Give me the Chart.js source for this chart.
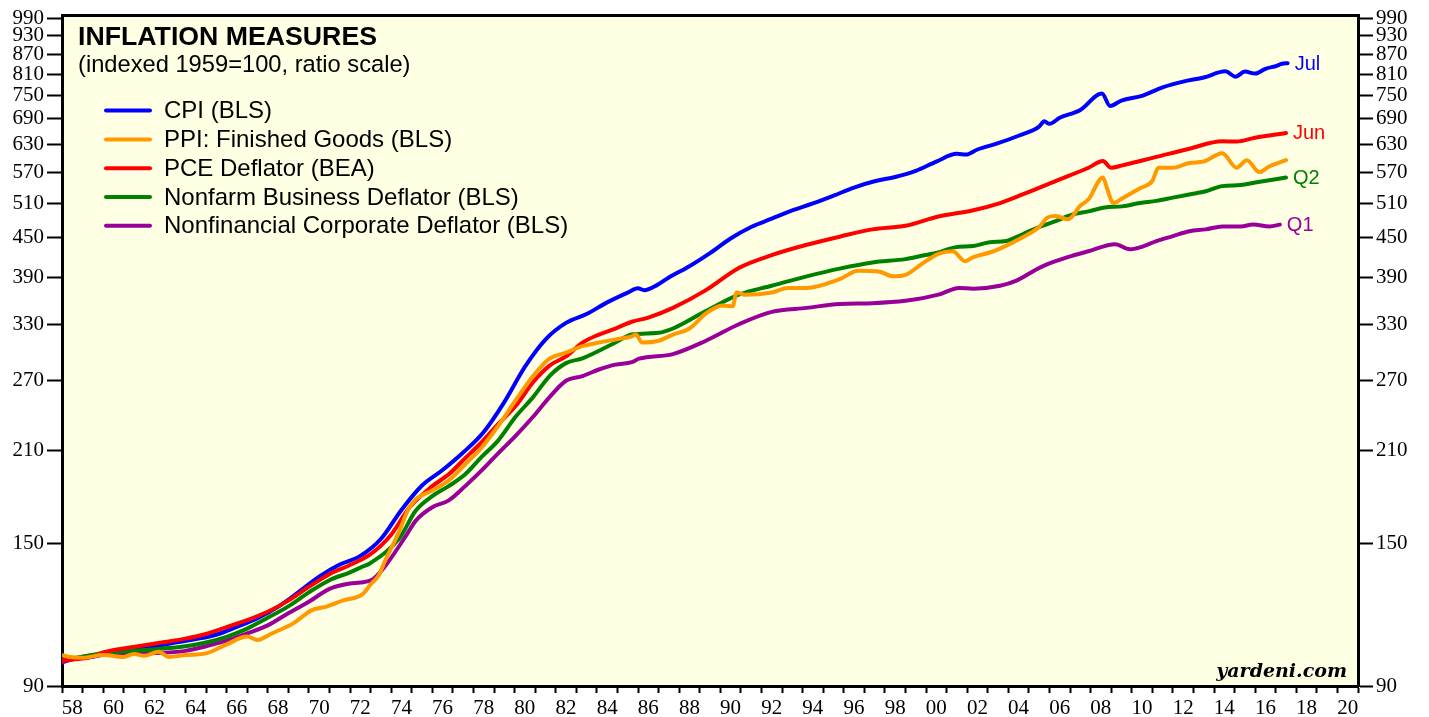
<!DOCTYPE html>
<html>
<head>
<meta charset="utf-8">
<title>Inflation Measures</title>
<script src="https://cdn.jsdelivr.net/npm/chart.js@4.4.0/dist/chart.umd.min.js"></script>
<style>
  html, body { margin: 0; padding: 0; background: #fff; }
  #wrap { width: 1429px; height: 717px; }
</style>
</head>
<body>
<div id="wrap"><canvas id="chart" width="1429" height="717"></canvas></div>
<script>
// Indexed 1959=100 (x = decimal year)
const cpiDates = [1958.0, 1958.5, 1959.5, 1960.5, 1961.5, 1962.5, 1963.5, 1964.5, 1965.5, 1966.5, 1967.5, 1968.5, 1969.5,
  1970.5, 1971.5, 1972.5, 1973.5, 1974.5, 1975.5, 1976.5, 1977.5, 1978.5, 1979.5, 1980.5, 1981.5, 1982.5, 1983.5, 1984.5,
  1985.5, 1986.0, 1986.3, 1986.9, 1987.5, 1988.5, 1989.5, 1990.5, 1991.5, 1992.5, 1993.5, 1994.5, 1995.5, 1996.5, 1997.5,
  1998.5, 1999.5, 2000.5, 2001.5, 2001.95, 2002.5, 2003.5, 2004.5, 2005.5, 2005.75, 2006.0, 2006.5, 2007.5, 2008.55,
  2008.95, 2009.5, 2010.5, 2011.5, 2012.5, 2013.5, 2014.55, 2015.05, 2015.5, 2016.0, 2016.5, 2017.05, 2017.3, 2017.58];
const cpiValues = [98.3, 99.3, 100.0, 101.7, 102.7, 103.8, 105.2, 106.5, 108.2, 111.3, 114.8, 119.6, 126.1,
  133.3, 139.2, 143.6, 152.6, 169.4, 184.9, 195.5, 208.2, 224.1, 249.5, 283.2, 312.4, 331.6, 342.3, 357.0,
  369.8, 375.5, 373.0, 379.5, 390.4, 406.5, 426.1, 449.1, 468.0, 482.1, 496.6, 509.3, 523.7, 539.2, 551.5,
  560.1, 572.5, 591.8, 608.6, 607.0, 618.2, 632.3, 649.5, 671.1, 684.0, 678.0, 692.8, 712.4, 756.0,
  723.0, 737.1, 749.5, 772.9, 789.0, 800.7, 818.5, 803.0, 818.0, 812.0, 826.0, 835.0, 841.0, 843.0];

const ppiDates = [1958.0, 1958.3, 1959.0, 1960.0, 1961.0, 1961.5, 1962.0, 1962.7, 1963.2, 1964.0, 1965.0, 1966.0, 1967.0,
  1967.5, 1968.2, 1969.3, 1970.1, 1970.9, 1971.7, 1972.6, 1973.0, 1973.4, 1973.7, 1974.4, 1974.8, 1975.2, 1976.0, 1976.8,
  1977.6, 1978.4, 1979.2, 1980.05, 1980.9, 1981.7, 1982.5, 1983.3, 1984.1, 1984.9, 1985.7, 1985.9, 1986.2, 1987.0, 1987.7,
  1988.5, 1989.3, 1990.1, 1990.6, 1990.8, 1991.2, 1992.5, 1993.3, 1994.2, 1995.8, 1996.7, 1997.7, 1998.4, 1999.0, 1999.8,
  2000.6, 2001.3, 2001.9, 2002.3, 2003.1, 2003.6, 2004.7, 2005.5, 2005.9, 2006.3, 2006.9, 2007.5, 2007.9, 2008.6, 2008.8,
  2009.1, 2009.55, 2010.4, 2011.0, 2011.3, 2012.0, 2012.8, 2013.5, 2014.4, 2015.1, 2015.6, 2016.2, 2016.7, 2017.5];
const ppiValues = [100.5, 100.0, 99.6, 100.6, 99.9, 101.0, 100.3, 101.8, 99.9, 100.6, 101.2, 104.5, 107.5,
  106.2, 108.7, 113.0, 118.0, 119.8, 122.5, 125.1, 129.6, 134.0, 141.0, 157.0, 169.0, 176.0, 181.7, 188.3,
  199.6, 212.0, 229.0, 251.0, 274.0, 291.6, 298.0, 305.0, 309.0, 312.5, 316.0, 318.0, 309.0, 311.0, 318.0,
  325.0, 343.0, 353.0, 352.0, 370.0, 367.0, 370.0, 376.0, 376.0, 388.0, 400.0, 399.0, 392.0, 394.0, 410.0,
  425.0, 429.0, 414.0, 420.0, 427.0, 433.0, 451.0, 468.0, 484.0, 487.0, 481.0, 505.0, 517.0, 559.0, 538.0,
  510.0, 519.0, 538.0, 552.0, 579.0, 579.0, 589.0, 592.0, 610.0, 579.0, 595.0, 570.0, 582.0, 595.0];

const pceDates = [1958.0, 1959.5, 1960.0, 1961.0, 1962.0, 1963.0, 1964.0, 1965.0, 1966.0, 1967.0, 1968.0, 1969.0, 1970.0,
  1971.0, 1972.0, 1973.0, 1974.0, 1974.9, 1976.0, 1976.8, 1977.6, 1978.4, 1979.2, 1980.05, 1980.9, 1981.7, 1982.5, 1983.3,
  1984.1, 1984.9, 1985.7, 1986.5, 1987.7, 1989.3, 1990.9, 1992.5, 1994.2, 1995.8, 1997.4, 1999.0, 2000.6, 2002.3, 2003.6,
  2004.7, 2006.3, 2007.9, 2008.6, 2009.0, 2009.55, 2011.2, 2012.8, 2014.4, 2015.1, 2016.0, 2017.5];
const pceValues = [98.6, 100.0, 101.5, 103.0, 104.2, 105.4, 106.7, 108.5, 111.2, 114.0, 117.5, 122.3, 128.5,
  134.5, 139.0, 144.5, 155.0, 171.0, 184.5, 192.5, 204.0, 216.0, 230.5, 246.0, 268.0, 284.5, 294.0, 309.0,
  318.0, 325.0, 333.0, 338.0, 350.0, 373.0, 404.0, 423.0, 439.0, 452.0, 464.0, 470.0, 486.0, 497.0, 510.0,
  526.0, 552.0, 579.0, 593.0, 579.0, 584.0, 602.0, 620.0, 637.0, 636.0, 645.0, 656.0];

const nfbDates = [1958.0, 1959.0, 1960.0, 1962.0, 1964.0, 1965.0, 1966.0, 1967.0, 1968.0, 1969.0, 1970.0, 1971.0, 1972.0,
  1972.5, 1973.0, 1974.4, 1975.2, 1976.0, 1976.8, 1977.6, 1978.4, 1979.2, 1980.05, 1980.9, 1981.7, 1982.5, 1983.3, 1984.1,
  1984.9, 1985.7, 1987.0, 1987.7, 1989.3, 1990.9, 1992.5, 1994.2, 1995.8, 1997.4, 1999.0, 1999.8, 2000.6, 2001.4, 2002.3,
  2003.1, 2003.9, 2004.7, 2005.5, 2006.3, 2007.1, 2007.9, 2008.7, 2009.55, 2010.4, 2011.2, 2012.0, 2012.8, 2013.6, 2014.4,
  2015.3, 2016.0, 2017.5];
const nfbValues = [98.8, 100.0, 101.2, 102.4, 103.8, 105.2, 107.4, 110.6, 115.0, 119.8, 126.0, 131.6, 135.4,
  137.7, 140.0, 153.0, 169.0, 178.0, 184.5, 192.5, 205.0, 217.3, 236.7, 254.0, 274.0, 287.0, 292.0, 300.0,
  309.0, 318.0, 320.0, 325.0, 346.0, 367.0, 379.0, 392.0, 403.0, 412.0, 417.0, 422.0, 427.0, 435.0, 437.0,
  443.0, 445.0, 456.0, 468.0, 478.0, 489.0, 495.0, 502.0, 504.0, 510.0, 514.0, 520.0, 526.0, 532.0, 542.0,
  544.0, 549.0, 559.0];

const nfcDates = [1958.0, 1959.0, 1960.0, 1962.0, 1964.0, 1965.0, 1966.0, 1967.0, 1968.0, 1969.0, 1970.0, 1971.0, 1972.0,
  1972.5, 1973.1, 1973.6, 1974.7, 1975.2, 1976.0, 1976.8, 1977.6, 1978.4, 1979.2, 1980.05, 1980.9, 1981.7, 1982.5, 1983.3,
  1984.1, 1984.9, 1985.7, 1986.05, 1987.7, 1989.3, 1990.9, 1992.5, 1994.2, 1995.8, 1997.4, 1999.0, 2000.6, 2001.6, 2002.3,
  2003.6, 2004.4, 2005.5, 2006.3, 2007.1, 2007.9, 2009.2, 2009.9, 2010.4, 2011.2, 2012.0, 2012.8, 2013.6, 2014.4, 2015.3,
  2015.9, 2016.7, 2017.2];
const nfcValues = [97.9, 100.0, 100.6, 101.2, 102.1, 103.8, 105.9, 108.7, 111.9, 116.9, 121.8, 127.6, 130.1,
  130.5, 132.0, 137.0, 154.0, 163.0, 171.0, 175.3, 184.5, 195.2, 207.5, 221.0, 236.7, 254.0, 269.4, 274.0,
  280.5, 285.5, 288.0, 291.6, 296.5, 311.0, 330.0, 345.0, 350.0, 355.0, 356.0, 359.0, 367.0, 376.0, 375.0,
  379.0, 386.0, 404.0, 414.0, 422.0, 429.0, 440.0, 432.0, 435.0, 445.0, 453.0, 461.0, 464.0, 469.0, 469.0,
  472.0, 469.0, 472.0];

const seriesNames = ['CPI (BLS)', 'PPI: Finished Goods (BLS)', 'PCE Deflator (BEA)',
  'Nonfarm Business Deflator (BLS)', 'Nonfinancial Corporate Deflator (BLS)'];
const seriesColors = ['#0000ff', '#ff9900', '#ff0000', '#008000', '#990099'];
const endLabels = ['Jul', '', 'Jun', 'Q2', 'Q1'];

const yTicks = [90, 150, 210, 270, 330, 390, 450, 510, 570, 630, 690, 750, 810, 870, 930, 990];
const firstYear = 1958;
const lastYear = 2021;

const toPoints = (xs, ys) => xs.map((x, i) => ({ x, y: ys[i] }));
const seriesData = [
  toPoints(cpiDates, cpiValues),
  toPoints(ppiDates, ppiValues),
  toPoints(pceDates, pceValues),
  toPoints(nfbDates, nfbValues),
  toPoints(nfcDates, nfcValues),
];
// drawing order: lower number is painted on top
const drawOrder = [5, 1, 2, 3, 4];

// x ticks: every year gets a tick mark, labels sit mid-year on even years
const xTicks = [];
for (let y = firstYear; y <= lastYear; y++) {
  xTicks.push(y);
  if (y < lastYear) xTicks.push(y + 0.5);
}

const serif = '"Liberation Serif", "Times New Roman", serif';
const sans = '"Liberation Sans", Arial, Helvetica, sans-serif';

const plotBg = {
  id: 'plotBg',
  beforeDraw(chart) {
    const { ctx, chartArea: a } = chart;
    ctx.save();
    ctx.fillStyle = '#ffffe3';
    ctx.fillRect(a.left, a.top, a.right - a.left, a.bottom - a.top);
    ctx.restore();
  }
};

const overlay = {
  id: 'overlay',
  afterDatasetsDraw(chart) {
    const { ctx, chartArea: a, scales } = chart;
    ctx.save();
    ctx.fillStyle = '#000';
    ctx.textBaseline = 'alphabetic';
    ctx.textAlign = 'left';
    ctx.font = 'bold 26.7px ' + sans;
    ctx.fillText('INFLATION MEASURES', a.left + 16, a.top + 29);
    ctx.font = '23.7px ' + sans;
    ctx.fillText('(indexed 1959=100, ratio scale)', a.left + 16, a.top + 56);

    // legend
    chart.data.datasets.forEach((ds, i) => {
      const y = a.top + 95 + i * 28.8;
      ctx.strokeStyle = ds.borderColor;
      ctx.lineWidth = 4;
      ctx.lineCap = 'round';
      ctx.beginPath();
      ctx.moveTo(a.left + 44, y);
      ctx.lineTo(a.left + 88, y);
      ctx.stroke();
      ctx.fillStyle = '#000';
      ctx.font = '24px ' + sans;
      ctx.textBaseline = 'middle';
      ctx.fillText(ds.label, a.left + 102, y + 1);
    });

    // labels at the end of each line
    ctx.font = '20px ' + sans;
    ctx.textBaseline = 'middle';
    chart.data.datasets.forEach((ds, i) => {
      if (!endLabels[i]) return;
      const last = ds.data[ds.data.length - 1];
      const px = scales.x.getPixelForValue(last.x);
      const py = scales.y.getPixelForValue(last.y);
      ctx.fillStyle = ds.borderColor;
      ctx.fillText(endLabels[i], px + 7, py + 1);
    });

    ctx.fillStyle = '#000';
    ctx.textAlign = 'right';
    ctx.textBaseline = 'alphabetic';
    ctx.font = 'italic bold 19px "DejaVu Serif", serif';
    ctx.fillText('yardeni.com', a.right - 11, a.bottom - 9);
    ctx.restore();
  }
};

const yAxis = (position, width) => ({
  type: 'logarithmic',
  position,
  min: 90,
  max: 1000,
  afterBuildTicks: s => { s.ticks = yTicks.map(v => ({ value: v })); },
  afterFit: s => { s.width = width; },
  grid: { drawOnChartArea: false, drawTicks: true, tickLength: 15, tickWidth: 2, tickColor: '#000' },
  border: { display: true, color: '#000', width: 3 },
  ticks: {
    autoSkip: false,
    padding: 3,
    color: '#000',
    font: { family: serif, size: 21 },
    callback: v => String(v)
  }
});

new Chart(document.getElementById('chart'), {
  type: 'line',
  data: {
    datasets: seriesData.map((pts, i) => ({
      label: seriesNames[i],
      data: pts,
      borderColor: seriesColors[i],
      backgroundColor: seriesColors[i],
      borderWidth: 4,
      pointRadius: 0,
      cubicInterpolationMode: 'monotone',
      borderJoinStyle: 'round',
      borderCapStyle: 'round',
      fill: false,
      order: drawOrder[i],
    })),
  },
  options: {
    responsive: false,
    animation: false,
    devicePixelRatio: 1,
    layout: { padding: 0 },
    plugins: {
      legend: { display: false },
      tooltip: { enabled: false },
    },
    scales: {
      x: {
        type: 'linear',
        position: 'bottom',
        min: firstYear,
        max: lastYear,
        afterBuildTicks: s => { s.ticks = xTicks.map(v => ({ value: v })); },
        afterFit: s => { s.height = 31; },
        grid: {
          drawOnChartArea: false,
          drawTicks: true,
          tickLength: 7,
          tickWidth: 2,
          tickColor: c => (Number.isInteger(c.tick.value) ? '#000' : 'rgba(0,0,0,0)'),
        },
        border: { display: true, color: '#000', width: 3 },
        ticks: {
          autoSkip: false,
          maxRotation: 0,
          minRotation: 0,
          padding: 3,
          color: '#000',
          font: { family: serif, size: 21 },
          callback: v => {
            const yr = Math.floor(v);
            if (v - yr !== 0.5 || yr % 2 !== 0) return '';
            return String(yr % 100).padStart(2, '0');
          }
        }
      },
      xTop: {
        type: 'linear',
        position: 'top',
        min: firstYear,
        max: lastYear,
        afterFit: s => { s.height = 14; },
        grid: { display: false, drawTicks: false },
        border: { display: true, color: '#000', width: 3 },
        ticks: { display: false }
      },
      y: yAxis('left', 62),
      y2: yAxis('right', 71),
    }
  },
  plugins: [plotBg, overlay]
});
</script>
</body>
</html>
